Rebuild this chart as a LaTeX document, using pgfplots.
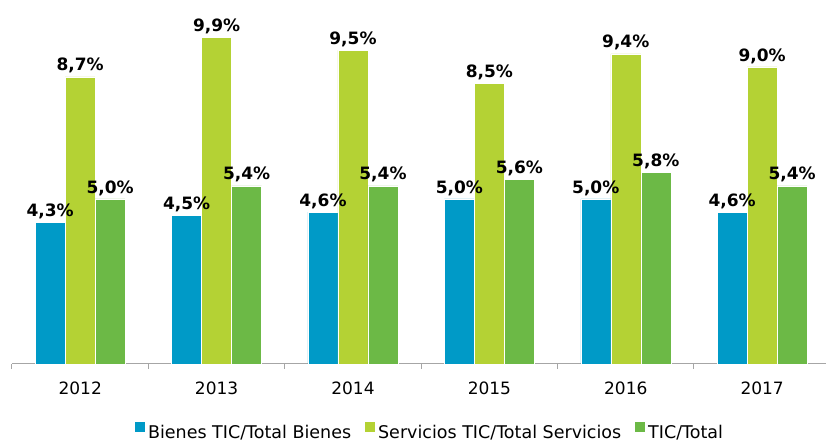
\documentclass[border=0pt]{standalone}
\usepackage{fontspec}
\setmainfont{DejaVu Sans}
\usepackage{pgfplots}
\pgfplotsset{compat=1.18}
\definecolor{bienes}{RGB}{0,154,199}
\definecolor{servicios}{RGB}{180,210,52}
\definecolor{tictotal}{RGB}{108,185,70}

\begin{document}
\begin{tikzpicture}
\begin{axis}[
    name=ax,
    scale only axis,
    width=814pt, height=363pt,
    ybar=0pt, bar width=30pt,
    xmin=-0.5, xmax=5.468,
    ymin=0, ymax=11,
    axis x line*=bottom, axis y line=none,
    x axis line style={-, draw=gray!70, line width=1pt},
    xtick={0,1,2,3,4,5},
    xticklabels={2012,2013,2014,2015,2016,2017},
    major tick length=0pt,
    minor xtick={-0.5,0.5,1.5,2.5,3.5,4.5},
    minor tick length=5pt,
    tick align=outside,
    tick style={gray!70, line width=1pt},
    ticklabel style={font=\fontsize{17}{20}\selectfont, text=black},
    xticklabel style={yshift=-14pt},
    clip=false,
    nodes near coords={\pgfmathprintnumber[fixed,fixed zerofill,precision=1,use comma,assume math mode=true]{\pgfplotspointmeta}\%},
    every node near coord/.append style={font=\bfseries\fontsize{17}{20}\selectfont, text=black},
    legend style={at={(0.513,-0.186)}, anchor=center, draw=none, fill=none,
        legend columns=3, font=\fontsize{17.5}{20}\selectfont,
        /tikz/every odd column/.append style={column sep=1pt},
        /tikz/every even column/.append style={column sep=11pt}},
    legend image code/.code={\fill[#1] (0pt,0pt) rectangle (10.5pt,10.5pt);},
]
\addplot[fill=bienes, draw=white, line width=0.4pt] coordinates {(0,4.3)(1,4.5)(2,4.6)(3,5.0)(4,5.0)(5,4.6)};
\addplot[fill=servicios, draw=white, line width=0.4pt] coordinates {(0,8.7)(1,9.9)(2,9.5)(3,8.5)(4,9.4)(5,9.0)};
\addplot[fill=tictotal, draw=white, line width=0.4pt] coordinates {(0,5.0)(1,5.4)(2,5.4)(3,5.6)(4,5.8)(5,5.4)};
\legend{Bienes TIC/Total Bienes, Servicios TIC/Total Servicios, TIC/Total}
\end{axis}
\pgfresetboundingbox
\path[use as bounding box] ([xshift=-12pt,yshift=-79pt]ax.south west) rectangle ([yshift=1pt]ax.north east);
\end{tikzpicture}
\end{document}
